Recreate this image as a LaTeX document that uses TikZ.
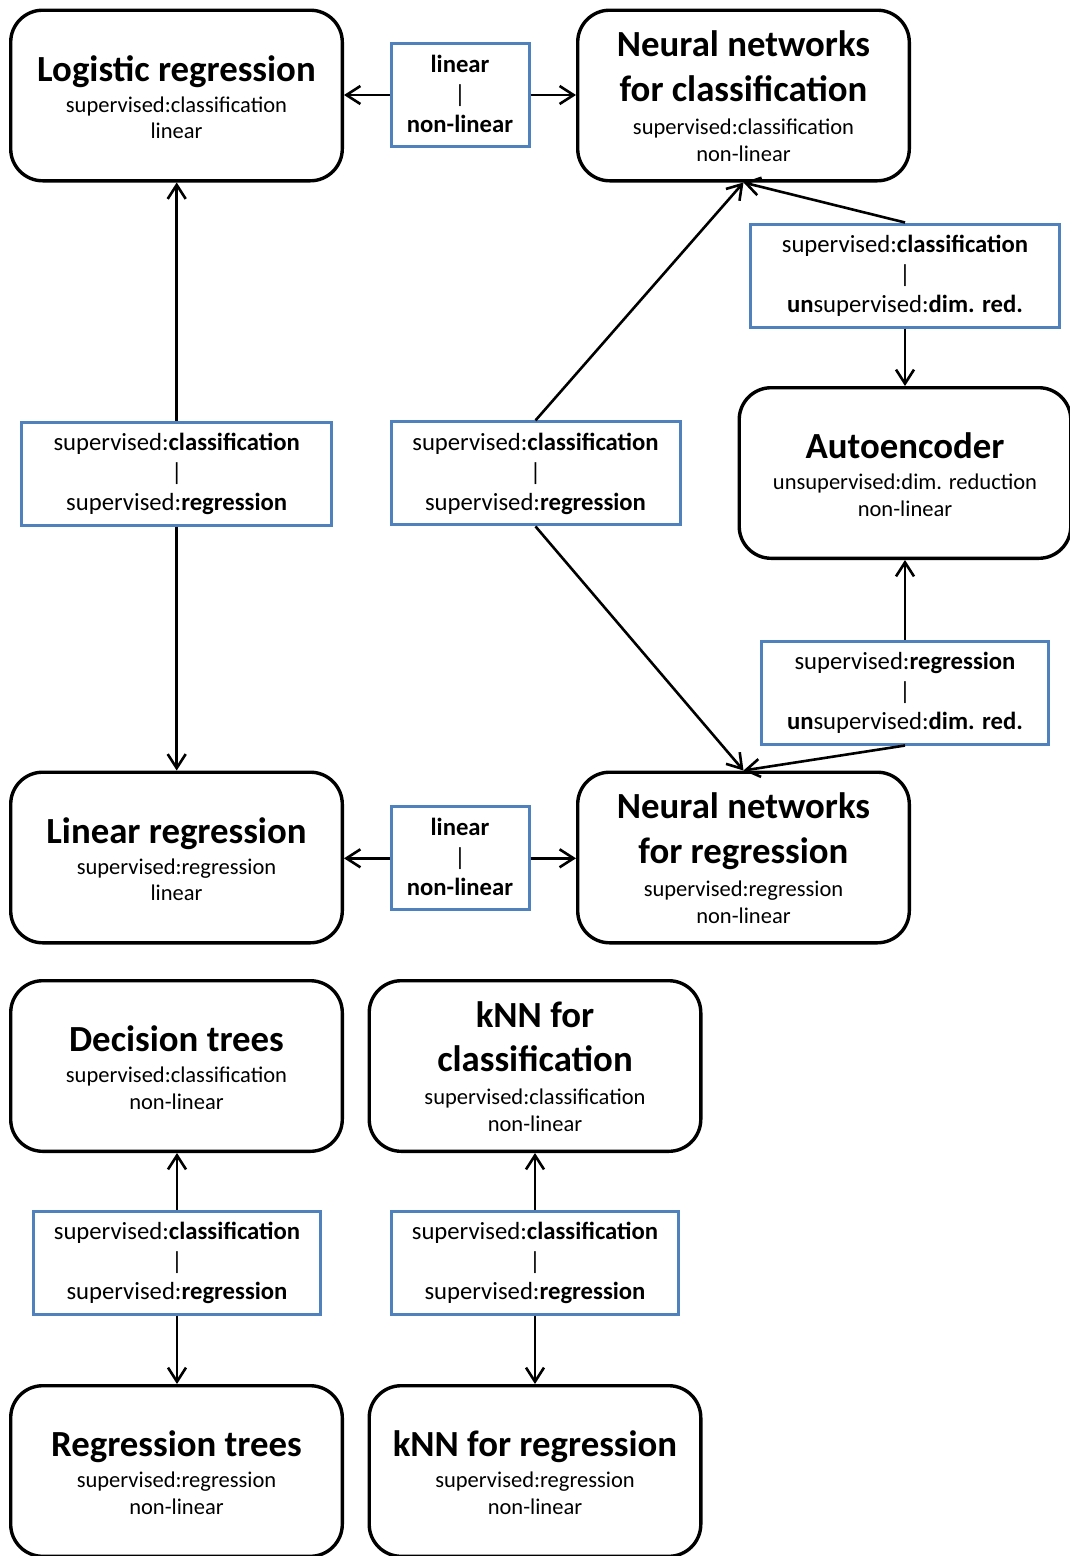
\documentclass[tikz,border=0pt]{standalone}
\usepackage{fontspec}
\setmainfont{Carlito}
\usetikzlibrary{arrows.meta,calc}
\definecolor{boxblue}{RGB}{79,129,189}
\tikzset{
 bigbox/.style={draw=black, line width=3.4pt, rounded corners=32pt, minimum width=331.6pt, minimum height=170.6pt, inner sep=0pt, fill=white},
 bluebox/.style={draw=boxblue, line width=3pt, inner sep=0pt, minimum height=103pt, fill=white},
 ttl/.style={font=\fontsize{36.8}{44}\selectfont\bfseries, inner sep=0pt, anchor=base},
 subt/.style={font=\fontsize{22.5}{27}\selectfont, inner sep=0pt, anchor=base},
 bt/.style={font=\fontsize{24.7}{30}\selectfont, inner sep=0pt, anchor=base},
 conn/.style={line width=2.6pt, -{Straight Barb[length=14pt,width=18pt]}},
}
\newcommand{\OneTitleBox}[6]{%
 \node[bigbox] (#1) at (#2,#3) {};
 \node[ttl] (#1-a) at ($(#1.center)+(0,-14.5)$) {#4};
 \node[subt] (#1-b) at ($(#1.center)+(0,16.5)$) {#5};
 \node[subt] (#1-c) at ($(#1.center)+(0,43.2)$) {#6};
}
\newcommand{\TwoTitleBox}[7]{%
 \node[bigbox] (#1) at (#2,#3) {};
 \node[ttl] (#1-a) at ($(#1.center)+(0,-39)$) {#4};
 \node[ttl] (#1-d) at ($(#1.center)+(0,5.5)$) {#5};
 \node[subt] (#1-b) at ($(#1.center)+(0,38.5)$) {#6};
 \node[subt] (#1-c) at ($(#1.center)+(0,65.5)$) {#7};
}
\newcommand{\BlueBox}[6]{%
 \node[bluebox, minimum width=#4pt] (#1) at (#2,#3) {};
 \node[bt] (#1-a) at ($(#1.center)+(0,-23)$) {#5};
 \node[bt] (#1-b) at ($(#1.center)+(0,7)$) {|};
 \node[bt] (#1-c) at ($(#1.center)+(0,37)$) {#6};
}
\begin{document}
\begin{tikzpicture}[x=1pt,y=-1pt]
\path[fill=white, use as bounding box] (0,0) rectangle (1069,1556);

\OneTitleBox{lr}{176.5}{95.5}{Logistic regression}{supervised:classification}{linear}
\TwoTitleBox{nnc}{743.5}{95.5}{Neural networks}{for classification}{supervised:classification}{non-linear}
\OneTitleBox{ae}{905}{473}{Autoencoder}{unsupervised:dim. reduction}{non-linear}
\OneTitleBox{lin}{176.5}{857.5}{Linear regression}{supervised:regression}{linear}
\TwoTitleBox{nnr}{743.5}{857.5}{Neural networks}{for regression}{supervised:regression}{non-linear}
\OneTitleBox{dt}{176.5}{1066}{Decision trees}{supervised:classification}{non-linear}
\TwoTitleBox{knc}{535}{1066}{kNN for}{classification}{supervised:classification}{non-linear}
\OneTitleBox{rt}{176.5}{1471}{Regression trees}{supervised:regression}{non-linear}
\OneTitleBox{knr}{535}{1471}{kNN for regression}{supervised:regression}{non-linear}

\BlueBox{bt1}{460}{95}{138}{\textbf{linear}}{\textbf{non-linear}}
\BlueBox{bt2}{460}{858.3}{138}{\textbf{linear}}{\textbf{non-linear}}
\BlueBox{bl}{176.7}{473.7}{310}{supervised:\textbf{classification}}{supervised:\textbf{regression}}
\BlueBox{bm}{535.5}{473.4}{289}{supervised:\textbf{classification}}{supervised:\textbf{regression}}
\BlueBox{brt}{905}{275.5}{309}{supervised:\textbf{classification}}{\textbf{un}supervised:\textbf{dim. red.}}
\BlueBox{brb}{905}{692.5}{287}{supervised:\textbf{regression}}{\textbf{un}supervised:\textbf{dim. red.}}
\BlueBox{bdt}{177}{1262.5}{287}{supervised:\textbf{classification}}{supervised:\textbf{regression}}
\BlueBox{bkn}{535}{1262.5}{287}{supervised:\textbf{classification}}{supervised:\textbf{regression}}

\draw[conn] (bt1.west) -- (bt1.west -| lr.east);
\draw[conn] (bt1.east) -- (bt1.east -| nnc.west);
\draw[conn] (bt2.west) -- (bt2.west -| lin.east);
\draw[conn] (bt2.east) -- (bt2.east -| nnr.west);
\draw[conn] (bl.north) -- (bl.north |- lr.south);
\draw[conn] (bl.south) -- (bl.south |- lin.north);
\draw[conn] (bm.north) -- (nnc.south);
\draw[conn] (bm.south) -- (nnr.north);
\draw[conn] (brt.north) -- (nnc.south);
\draw[conn] (brt.south) -- (ae.north);
\draw[conn] (brb.north) -- (ae.south);
\draw[conn] (brb.south) -- (nnr.north);
\draw[conn] (bdt.north) -- (bdt.north |- dt.south);
\draw[conn] (bdt.south) -- (bdt.south |- rt.north);
\draw[conn] (bkn.north) -- (knc.south);
\draw[conn] (bkn.south) -- (knr.north);
\end{tikzpicture}
\end{document}
